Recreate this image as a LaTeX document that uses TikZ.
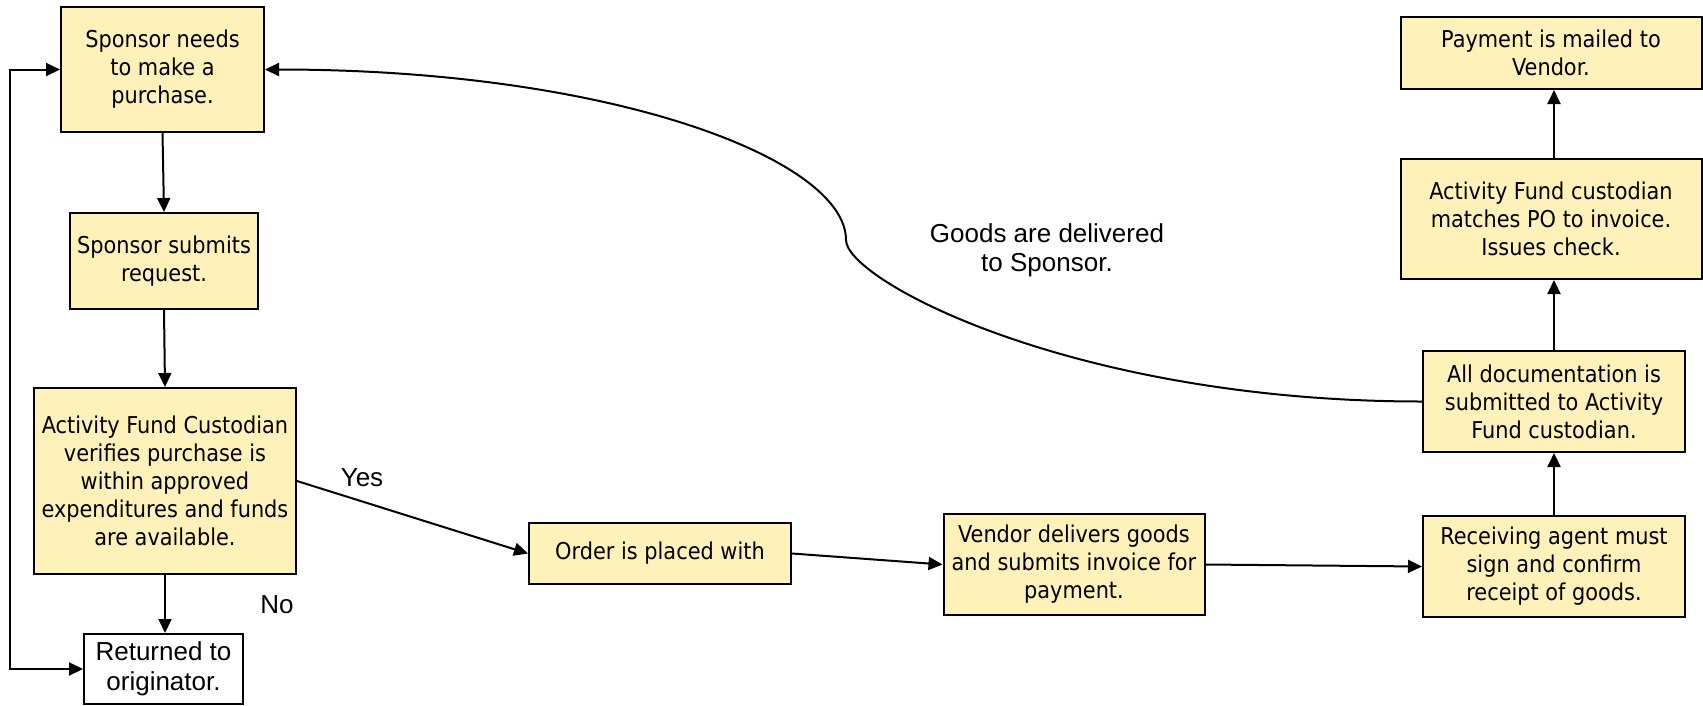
\documentclass[tikz,border=0pt]{standalone}
\usepackage{fontspec}
\setmainfont{Liberation Sans}
\newfontfamily\boxfont{DejaVu Sans Condensed}
\usetikzlibrary{arrows.meta}
\definecolor{boxfill}{RGB}{255,241,186}
\begin{document}
\begin{tikzpicture}[x=1pt,y=-1pt,
  box/.style={draw=black, line width=2pt, fill=boxfill, align=center, inner sep=0pt,
    font=\boxfont\fontsize{23.2pt}{28pt}\selectfont},
  plainbox/.style={draw=black, line width=2pt, fill=white, align=center, inner sep=0pt,
    font=\fontsize{26pt}{30pt}\selectfont},
  lbl/.style={align=center, inner sep=0pt, font=\fontsize{26pt}{29pt}\selectfont},
  tip/.tip={Triangle[length=14pt,width=13pt]},
  arr/.style={line width=2pt, -tip},
  arrboth/.style={line width=2pt, tip-tip}]
\useasboundingbox (0,0) rectangle (1703,705);
\node[box, minimum width=203pt, minimum height=125pt] (A) at (162.5,69.5) {Sponsor needs\\to make a\\purchase.};
\node[box, minimum width=188pt, minimum height=96pt] (B) at (164,261) {Sponsor submits\\request.};
\node[box, minimum width=262pt, minimum height=186pt] (C) at (165,481) {Activity Fund Custodian\\verifies purchase is\\within approved\\expenditures and funds\\are available.};
\node[plainbox, minimum width=159pt, minimum height=70pt] (D) at (163.5,669) {Returned to\\originator.};
\node[box, minimum width=262pt, minimum height=61pt] (E) at (660,553.5) {Order is placed with};
\node[box, minimum width=261pt, minimum height=101pt] (F) at (1074,564.5) {Vendor delivers goods\\and submits invoice for\\payment.};
\node[box, minimum width=262pt, minimum height=101pt] (G) at (1554,566.5) {Receiving agent must\\sign and confirm\\receipt of goods.};
\node[box, minimum width=262pt, minimum height=101pt] (H) at (1554,401.5) {All documentation is\\submitted to Activity\\Fund custodian.};
\node[box, minimum width=301pt, minimum height=120pt] (I) at (1551,219) {Activity Fund custodian\\matches PO to invoice.\\Issues check.};
\node[box, minimum width=301pt, minimum height=72pt] (J) at (1551,53) {Payment is mailed to\\Vendor.};
\node[lbl] (yes) at (362,478) {Yes};
\node[lbl] (no) at (277,605) {No};
\node[lbl] (goods) at (1047,250) {Goods are delivered\\to Sponsor.};
\draw[arr] (A.south) -- (B.north);
\draw[arr] (B.south) -- (C.north);
\draw[arr] (C.south) -- (C.south |- D.north);
\draw[arrboth] (A.west) -- ++(-50,0) |- (D.west);
\draw[arr] (C.east) -- (E.west);
\draw[arr] (E.east) -- (F.west);
\draw[arr] (F.east) -- (G.west);
\draw[arr] (G.north) -- (H.south);
\draw[arr] (H.north) -- (H.north |- I.south);
\draw[arr] (H.north |- I.north) -- (H.north |- J.south);
\coordinate (mid) at (846,240);
\draw[arr] (H.west) .. controls (1073,401.5) and (846,280) .. (mid) .. controls (846,160) and (614,69.5) .. (A.east);
\end{tikzpicture}
\end{document}
